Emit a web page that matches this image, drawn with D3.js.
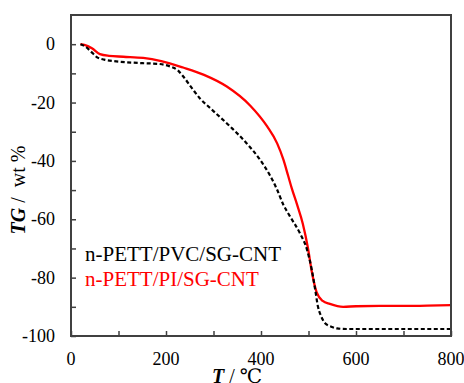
<!DOCTYPE html>
<html>
<head>
<meta charset="utf-8">
<script src="https://cdn.jsdelivr.net/npm/d3@7"></script>
<style>
  body { margin: 0; background: #fff; }
  svg text { font-family: "Times New Roman", "Liberation Serif", "DejaVu Serif", serif; }
</style>
</head>
<body>
<svg id="chart" width="464" height="383"></svg>
<script>
"use strict";
// PVC sample (black dashed)
var pvcT = [ 20, 30, 45, 55, 70, 90, 118, 150, 187, 208, 225, 236, 257, 271, 293, 335, 370, 398, 419, 434, 447, 461, 482, 497, 507, 514, 520, 526, 535, 548, 560, 580, 650, 700, 800 ];
var pvcW = [ 0, -0.8, -3, -4.5, -5.3, -5.8, -6.2, -6.5, -6.8, -7.6, -9, -11, -15.6, -18.5, -21.9, -28.2, -34, -39.6, -45, -49.9, -55, -59, -64.8, -70.5, -77.4, -84, -90, -93, -95.6, -96.8, -97.4, -97.6, -97.6, -97.6, -97.6 ];
// PI sample (red solid)
var piT = [ 20, 30, 45, 61, 80, 110, 152, 190, 236, 280, 328, 377, 413, 434, 447, 457, 465, 476, 488, 499, 507, 517, 530, 545, 573, 600, 650, 700, 750, 800 ];
var piW = [ 0, -0.3, -1.5, -3.4, -4.0, -4.3, -4.7, -5.8, -8.0, -10.5, -14.5, -21.0, -28.2, -34, -39.5, -45, -49.5, -55, -61.5, -70, -78, -85, -88, -89, -90, -89.8, -89.7, -89.7, -89.6, -89.4 ];

var seriesNames = [ "n-PETT/PVC/SG-CNT", "n-PETT/PI/SG-CNT" ];
var xTicks = [ 0, 200, 400, 600, 800 ];
var yTicks = [ 0, -20, -40, -60, -80, -100 ];

var margin = {top: 15, right: 13, bottom: 47, left: 71};
var W = 464, H = 383;
var svg = d3.select( "#chart" );

var x = d3.scaleLinear().domain( [ 0, 800 ] ).range( [ margin.left, W - margin.right ] );
var y = d3.scaleLinear().domain( [ -100, 10 ] ).range( [ H - margin.bottom, margin.top ] );

function pts( t, w ) {
  return t.map( function( d, i ) { return [ d, w[i] ]; } );
}

var line = d3.line()
  .x( function( d ) { return x( d[0] ); } )
  .y( function( d ) { return y( d[1] ); } )
  .curve( d3.curveMonotoneX );

// curves
svg.append( "path" ).datum( pts( piT, piW ) )
  .attr( "d", line ).attr( "fill", "none" )
  .attr( "stroke", "#ff0000" ).attr( "stroke-width", 2.3 );
svg.append( "path" ).datum( pts( pvcT, pvcW ) )
  .attr( "d", line ).attr( "fill", "none" )
  .attr( "stroke", "#000" ).attr( "stroke-width", 2.2 )
  .attr( "stroke-dasharray", "4,2.5" );

// axes, ticks pointing inward
var xAxis = d3.axisBottom( x ).tickValues( d3.range( 0, 801, 100 ) ).tickSizeInner( -5 ).tickSizeOuter( 0 ).tickFormat( "" );
var yAxis = d3.axisLeft( y ).tickValues( d3.range( -100, 1, 10 ) ).tickSizeInner( -5 ).tickSizeOuter( 0 ).tickFormat( "" );
svg.append( "g" ).attr( "transform", "translate(0," + ( H - margin.bottom ) + ")" ).call( xAxis );
svg.append( "g" ).attr( "transform", "translate(" + margin.left + ",0)" ).call( yAxis );
svg.selectAll( ".tick line" ).attr( "stroke", "#404040" ).attr( "stroke-width", 1.5 );
svg.selectAll( ".domain" ).remove();

// frame
svg.append( "rect" )
  .attr( "x", margin.left ).attr( "y", margin.top )
  .attr( "width", W - margin.left - margin.right )
  .attr( "height", H - margin.top - margin.bottom )
  .attr( "fill", "none" ).attr( "stroke", "#404040" ).attr( "stroke-width", 2 );

// tick labels
svg.selectAll( ".xl" ).data( xTicks ).enter().append( "text" )
  .attr( "x", function( d ) { return x( d ); } ).attr( "y", 365 )
  .attr( "text-anchor", "middle" ).attr( "font-size", 18 ).text( function( d ) { return d; } );
svg.selectAll( ".yl" ).data( yTicks ).enter().append( "text" )
  .attr( "x", 55 ).attr( "y", function( d ) { return y( d ) + 6; } )
  .attr( "text-anchor", "end" ).attr( "font-size", 18 ).text( function( d ) { return d; } );

// axis titles
var xt = svg.append( "text" ).attr( "x", 237 ).attr( "y", 383 ).attr( "text-anchor", "middle" ).attr( "font-size", 20 );
xt.append( "tspan" ).attr( "font-weight", "bold" ).attr( "font-style", "italic" ).text( "T" );
xt.append( "tspan" ).text( " / \u2103" );

var yt = svg.append( "text" ).attr( "transform", "translate(25,190) rotate(-90)" ).attr( "text-anchor", "middle" ).attr( "font-size", 20 );
yt.append( "tspan" ).attr( "font-weight", "bold" ).attr( "font-style", "italic" ).text( "TG" );
yt.append( "tspan" ).attr( "xml:space", "preserve" ).text( " /  wt %" );

// legend
var legColors = [ "#000", "#ff0000" ];
svg.selectAll( ".leg" ).data( seriesNames ).enter().append( "text" )
  .attr( "x", 85 ).attr( "y", function( d, i ) { return 261 + i * 25; } )
  .attr( "font-size", 21 ).attr( "fill", function( d, i ) { return legColors[i]; } )
  .text( function( d ) { return d; } );
</script>
</body>
</html>
